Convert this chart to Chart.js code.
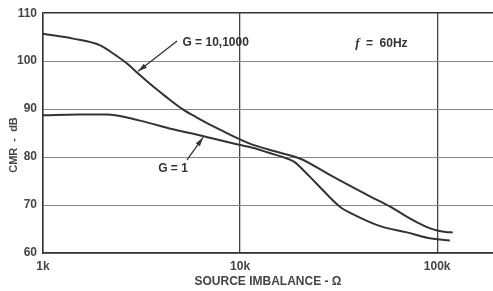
<!DOCTYPE html>
<html>
<head>
<meta charset="utf-8">
<script src="https://cdn.jsdelivr.net/npm/chart.js@4.4.0/dist/chart.umd.min.js"></script>
<style>
  html, body { margin: 0; padding: 0; background: #fff; }
  #wrap { width: 493px; height: 291px; }
</style>
</head>
<body>
<div id="wrap"><canvas id="cmrChart" width="493" height="291"></canvas></div>
<script>
// tick values
const xTicks = [1000, 10000, 100000];
const xTickLabels = ['1k', '10k', '100k'];
const yTicks = [60, 70, 80, 90, 100, 110];

// G = 10,1000 curve (source imbalance in ohms, CMR in dB)
const imbalanceG10 = [1000, 1420, 1950, 2270, 2670, 3100, 3600, 4260, 5100, 6000, 8000, 11200, 15000, 20100, 29600, 45600, 57500, 70000, 80000, 90000, 100000, 110000, 120000];
const cmrG10 = [105.7, 104.7, 103.3, 101.6, 99.5, 97.1, 94.8, 92.4, 90.0, 88.3, 85.6, 82.8, 81.2, 79.7, 75.9, 71.8, 69.7, 67.6, 66.3, 65.3, 64.7, 64.4, 64.3];

// G = 1 curve
const imbalanceG1 = [1000, 1500, 2100, 3100, 4570, 6300, 10000, 11200, 14000, 17300, 19000, 20100, 24400, 32200, 39100, 51400, 70200, 88700, 116000];
const cmrG1 = [88.7, 88.9, 88.9, 87.6, 85.8, 84.5, 82.5, 82.1, 80.9, 79.7, 78.9, 78.0, 74.5, 69.6, 67.7, 65.6, 64.3, 63.2, 62.6];

const textColor = '#444';
const inkColor = '#333';
const fontFamily = '"Liberation Sans", Arial, sans-serif';
const labelFont = 'bold 12px ' + fontFamily;

const toPoints = (xs, ys) => xs.map((v, i) => ({ x: v, y: ys[i] }));

// callouts in data units: text anchor and arrow from/to
const notes = [
    { text: 'G = 10,1000', x: 5100, y: 103.8, arrowFrom: [4790, 104.2], arrowTo: [3040, 97.9] },
    { text: 'G = 1', x: 3840, y: 77.6, arrowFrom: [5380, 79.4], arrowTo: [6490, 84.1] },
];
const freqNote = { x: 38400, y: 103.6 };

const drawArrow = (ctx, x0, y0, x1, y1) => {
    ctx.beginPath();
    ctx.moveTo(x0, y0);
    ctx.lineTo(x1, y1);
    ctx.stroke();
    const a = Math.atan2(y1 - y0, x1 - x0);
    const len = 9, half = 2.5;
    ctx.beginPath();
    ctx.moveTo(x1, y1);
    ctx.lineTo(x1 - len * Math.cos(a) + half * Math.sin(a), y1 - len * Math.sin(a) - half * Math.cos(a));
    ctx.lineTo(x1 - len * Math.cos(a) - half * Math.sin(a), y1 - len * Math.sin(a) + half * Math.cos(a));
    ctx.closePath();
    ctx.fill();
};

const annotations = {
    id: 'annotations',
    afterDatasetsDraw(chart) {
        const { ctx, scales: { x, y } } = chart;
        ctx.save();
        ctx.fillStyle = inkColor;
        ctx.strokeStyle = inkColor;
        ctx.lineWidth = 1.3;
        ctx.font = labelFont;
        ctx.textBaseline = 'middle';
        ctx.textAlign = 'left';

        notes.forEach(n => {
            ctx.fillText(n.text, x.getPixelForValue(n.x), y.getPixelForValue(n.y));
            drawArrow(ctx,
                x.getPixelForValue(n.arrowFrom[0]), y.getPixelForValue(n.arrowFrom[1]),
                x.getPixelForValue(n.arrowTo[0]), y.getPixelForValue(n.arrowTo[1]));
        });

        // f = 60Hz, with italic f
        let fx = x.getPixelForValue(freqNote.x);
        const fy = y.getPixelForValue(freqNote.y);
        ctx.font = 'italic bold 13px "Liberation Serif", serif';
        ctx.fillText('f', fx, fy);
        fx += ctx.measureText('f').width + 3;
        ctx.font = labelFont;
        ctx.fillText(' =  60Hz', fx, fy);

        // y axis title
        ctx.fillStyle = textColor;
        ctx.font = 'bold 11px ' + fontFamily;
        ctx.translate(14, 145);
        ctx.rotate(-Math.PI / 2);
        ctx.textAlign = 'center';
        ctx.fillText('CMR  -  dB', 0, 0);
        ctx.restore();
    }
};

new Chart(
    document.getElementById('cmrChart'),
    {
        type: 'scatter',
        data: {
            datasets: [
                {
                    label: 'G = 10,1000',
                    data: toPoints(imbalanceG10, cmrG10),
                    showLine: true,
                    borderColor: inkColor,
                    borderWidth: 2,
                    pointRadius: 0,
                    cubicInterpolationMode: 'monotone',
                },
                {
                    label: 'G = 1',
                    data: toPoints(imbalanceG1, cmrG1),
                    showLine: true,
                    borderColor: inkColor,
                    borderWidth: 2,
                    pointRadius: 0,
                    cubicInterpolationMode: 'monotone',
                }
            ]
        },
        options: {
            responsive: false,
            animation: false,
            devicePixelRatio: 1,
            layout: { padding: { top: 10, right: 0, left: 0, bottom: 0 } },
            plugins: {
                legend: { display: false },
                tooltip: { enabled: false }
            },
            scales: {
                x: {
                    type: 'logarithmic',
                    min: 1000,
                    max: 192000,
                    afterBuildTicks: axis => { axis.ticks = xTicks.map(v => ({ value: v })); },
                    afterFit: axis => { axis.height = 38; },
                    ticks: {
                        autoSkip: false,
                        maxRotation: 0,
                        padding: 6,
                        color: textColor,
                        font: { family: fontFamily, size: 12, weight: 'bold' },
                        callback: value => xTickLabels[xTicks.indexOf(value)] ?? ''
                    },
                    grid: { color: '#444', lineWidth: 1.3, drawTicks: false },
                    border: { color: '#333', width: 1.5 },
                    title: {
                        display: true,
                        text: 'SOURCE IMBALANCE - Ω',
                        color: textColor,
                        padding: { top: 0, bottom: 2 },
                        font: { family: fontFamily, size: 12, weight: 'bold' }
                    }
                },
                y: {
                    min: 60,
                    max: 110,
                    afterBuildTicks: axis => { axis.ticks = yTicks.map(v => ({ value: v })); },
                    afterFit: axis => { axis.width = 43; },
                    ticks: {
                        padding: 6,
                        color: textColor,
                        font: { family: fontFamily, size: 12, weight: 'bold' }
                    },
                    grid: {
                        drawTicks: false,
                        color: ctx => ctx.tick && ctx.tick.value === 110 ? '#333' : '#888',
                        lineWidth: ctx => ctx.tick && ctx.tick.value === 110 ? 1.5 : 1
                    },
                    border: { color: '#333', width: 1.5 }
                }
            }
        },
        plugins: [annotations]
    }
);
</script>
</body>
</html>
